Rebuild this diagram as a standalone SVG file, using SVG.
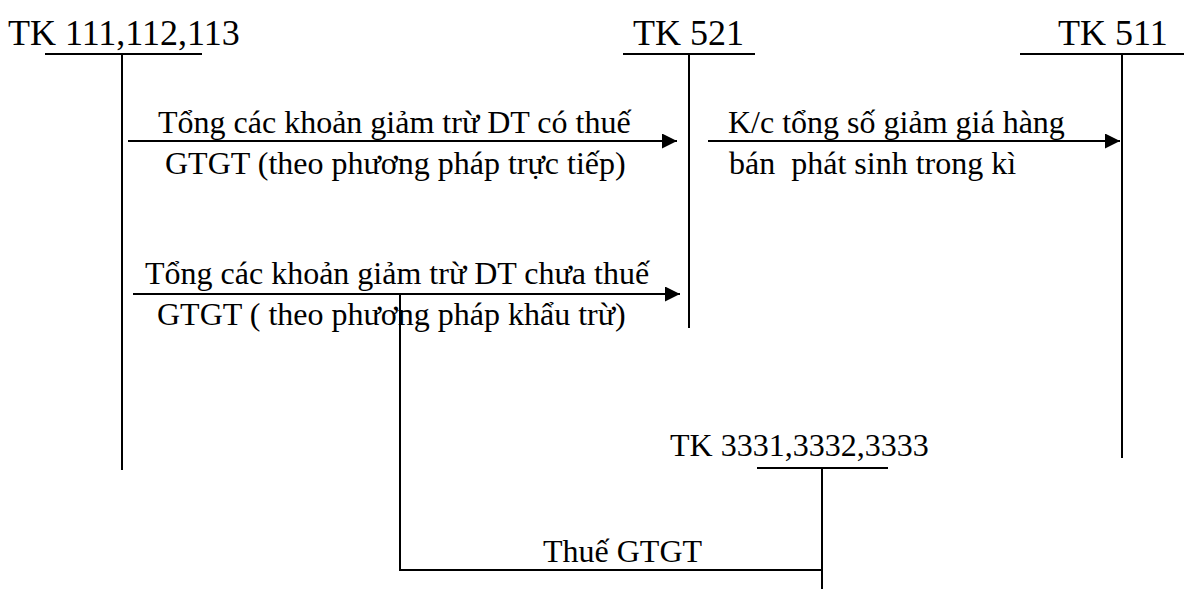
<svg xmlns="http://www.w3.org/2000/svg" width="1184" height="589" viewBox="0 0 1184 589">
<style>
text{font-family:"Liberation Serif","Times New Roman",serif;fill:#000}
.h{font-size:36px}
.l{font-size:32px}
.ln{stroke:#000;stroke-width:2;fill:none}
</style>
<defs>
<marker id="ah" viewBox="0 0 15 15" refX="15" refY="7.5" markerWidth="15" markerHeight="15" markerUnits="userSpaceOnUse" orient="auto">
<path d="M0,0 L15,7.5 L0,15 z" fill="#000"/>
</marker>
</defs>
<rect width="1184" height="589" fill="#fff"/>
<g id="tk111">
<text class="h" x="8" y="45">TK 111,112,113</text>
<line class="ln" x1="45" y1="54" x2="202" y2="54"/>
<line class="ln" x1="122" y1="54" x2="122" y2="470"/>
</g>
<g id="tk521">
<text class="h" x="633" y="45">TK 521</text>
<line class="ln" x1="623" y1="54" x2="755" y2="54"/>
<line class="ln" x1="689" y1="54" x2="689" y2="328"/>
</g>
<g id="tk511">
<text class="h" x="1058" y="45">TK 511</text>
<line class="ln" x1="1020" y1="54" x2="1184" y2="54"/>
<line class="ln" x1="1122" y1="54" x2="1122" y2="458"/>
</g>
<g id="tk3331">
<text class="l" x="670" y="456">TK 3331,3332,3333</text>
<line class="ln" x1="757" y1="468" x2="888" y2="468"/>
<line class="ln" x1="822" y1="468" x2="822" y2="589"/>
</g>
<g id="connectors">
<line class="ln" x1="128" y1="141" x2="677" y2="141" marker-end="url(#ah)"/>
<line class="ln" x1="708" y1="141" x2="1120" y2="141" marker-end="url(#ah)"/>
<line class="ln" x1="133" y1="294" x2="680" y2="294" marker-end="url(#ah)"/>
<polyline class="ln" points="400,294 400,570 822,570"/>
</g>
<g id="labels">
<text class="l" x="158" y="133">Tổng các khoản giảm trừ DT có thuế</text>
<text class="l" x="165" y="174">GTGT (theo phương pháp trực tiếp)</text>
<text class="l" x="728" y="133">K/c tổng số giảm giá hàng</text>
<text class="l" x="729" y="174" xml:space="preserve">bán  phát sinh trong kì</text>
<text class="l" x="145" y="284">Tổng các khoản giảm trừ DT chưa thuế</text>
<text class="l" x="157" y="325" xml:space="preserve">GTGT ( theo phương pháp khẩu trừ)</text>
<text class="l" x="543" y="562">Thuế GTGT</text>
</g>
</svg>
